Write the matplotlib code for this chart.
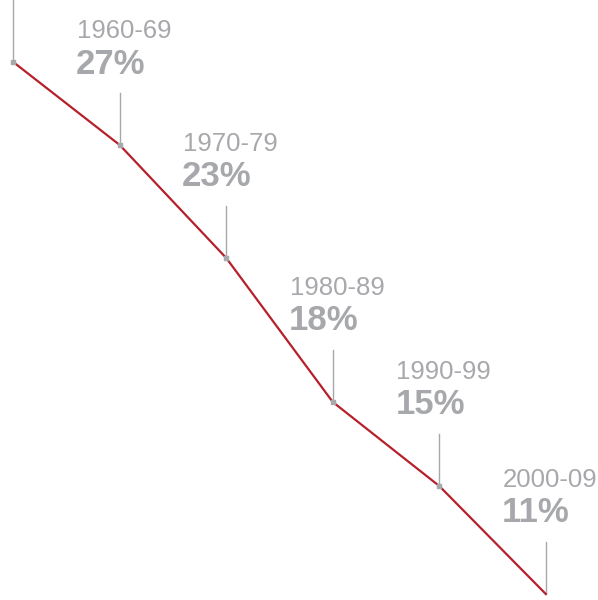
import matplotlib.pyplot as plt

plt.rcParams['font.family'] = ['Liberation Sans', 'DejaVu Sans']

# decade boundaries along the line, with the level reached at each one
points = [0, 1, 2, 3, 4, 5]
levels = [538, 455, 342, 198, 114, 6]
decades = ['', '1960-69', '1970-79', '1980-89', '1990-99', '2000-09']
shares = ['', '27%', '23%', '18%', '15%', '11%']

red = '#b5202a'
grey = '#a7a8ab'

fig = plt.figure(figsize=(5.98, 6), dpi=100)
ax = fig.add_axes([0, 0, 1, 1])
ax.set_xlim(-0.124, 5.49)
ax.set_ylim(0, 600)
ax.axis('off')

# thin grey leaders above each point
for i, (x, y) in enumerate(zip(points, levels)):
    top = 600 if i == 0 else y + 52
    ax.plot([x, x], [y, top], color=grey, lw=1, zorder=1)

ax.plot(points, levels, color=red, lw=1.6, zorder=2)
ax.scatter(points[:-1], levels[:-1], marker='s', s=10, color=grey, zorder=3)

for x, y, d, s in zip(points, levels, decades, shares):
    if not d:
        continue
    ax.annotate(d, (x, y), xytext=(-43, 114), textcoords='offset pixels',
                ha='left', va='center', fontsize=18.5, color=grey)
    ax.annotate(s, (x, y), xytext=(-44, 81), textcoords='offset pixels',
                ha='left', va='center', fontsize=25, fontweight='bold', color=grey)

fig.savefig('out.png', dpi=100)
